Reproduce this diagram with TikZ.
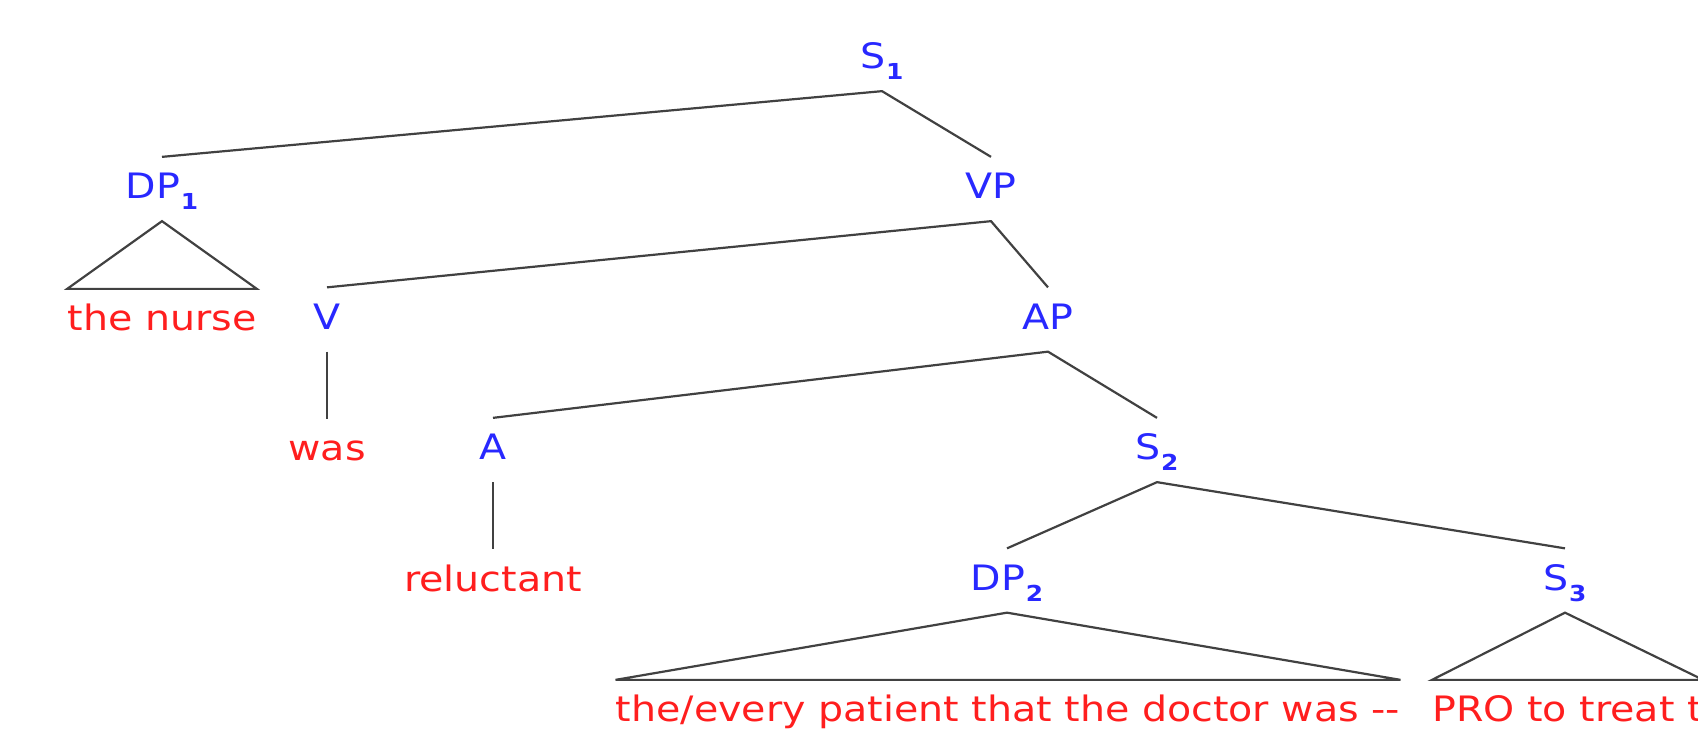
\documentclass[tikz,border=0pt]{standalone}
\usepackage{fontspec}
\setmainfont[FakeStretch=1.13]{DejaVu Sans}
\definecolor{catblue}{RGB}{40,40,255}
\definecolor{wordred}{RGB}{255,30,30}
\definecolor{edgegray}{RGB}{65,65,65}
% lowered index on a category label
\newcommand\idx[1]{\kern0.3pt\raisebox{-5.5pt}{\fontsize{11}{12}\selectfont\bfseries #1}}
\begin{document}
\begin{tikzpicture}[x=0.5pt,y=-0.5pt,
  lab/.style={inner xsep=0pt, inner ysep=8pt, text height=12.75pt, text depth=3pt,
              font=\fontsize{17.5}{21}\selectfont},
  cat/.style={lab, text=catblue},
  word/.style={lab, text=wordred},
  branch/.style={draw=edgegray, line width=1.1pt},
]
\useasboundingbox (0,0) rectangle (1698,735);
\clip (0,0) rectangle (1698,735);

% category labels
\node[cat] (s1)  at (882,59)    {S\idx{1}};
\node[cat] (dp1) at (162,189)   {DP\idx{1}};
\node[cat] (vp)  at (991,189)   {VP};
\node[cat] (v)   at (327,319.5) {V};
\node[cat] (ap)  at (1048,319.5){AP};
\node[cat] (a)   at (493,450)   {A};
\node[cat] (s2)  at (1157,450)  {S\idx{2}};
\node[cat] (dp2) at (1007,580.5){DP\idx{2}};
\node[cat] (s3)  at (1565,580.5){S\idx{3}};

% words
\node[word] (nurse)   at (162,321) {the nurse};
\node[word] (was)     at (327,451)   {was};
\node[word] (reluct)  at (493,581.5) {reluctant};
\node[word] (patient) at (1008,712)  {the/every patient that the doctor was -{}-};
\node[word,anchor=west] (pro) at (1432,712) {PRO to treat t};

% branches
\draw[branch] (dp1.north) -- (s1.south) -- (vp.north);
\draw[branch] (v.north) -- (vp.south) -- (ap.north);
\draw[branch] (a.north) -- (ap.south) -- (s2.north);
\draw[branch] (dp2.north) -- (s2.south) -- (s3.north);
\draw[branch] (v.south) -- (was.north);
\draw[branch] (a.south) -- (reluct.north);

% roofs over unanalysed phrases
\draw[branch] (dp1.south) -- (nurse.north west) -- (nurse.north east) -- cycle;
\draw[branch] (dp2.south) -- (patient.north west) -- (patient.north east) -- cycle;
\draw[branch] (s3.south) -- (pro.north west) -- (pro.north east) -- cycle;
\end{tikzpicture}
\end{document}
